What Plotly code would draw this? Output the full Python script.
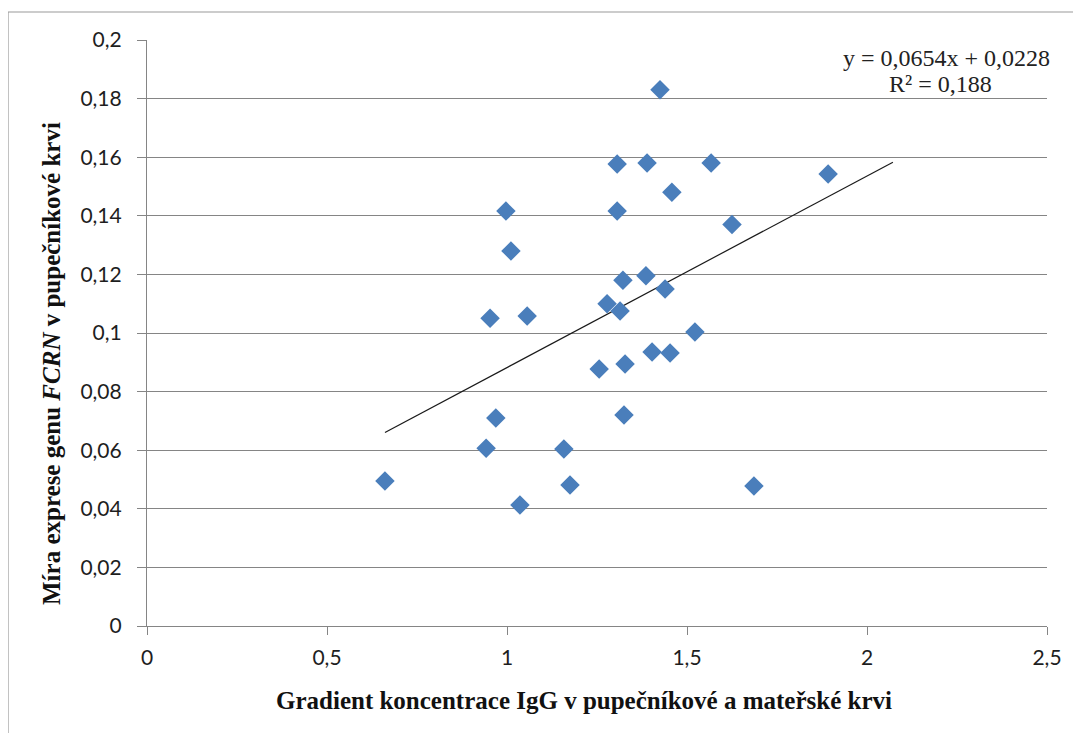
import plotly.graph_objects as go

# ---- data ----
gradient_igg = [0.661, 0.942, 0.969, 0.953, 0.997, 1.011, 1.036, 1.056, 1.158, 1.175,
                1.256, 1.278, 1.306, 1.306, 1.314, 1.322, 1.325, 1.328, 1.389, 1.386,
                1.403, 1.425, 1.439, 1.453, 1.458, 1.522, 1.567, 1.625, 1.686, 1.892]
fcrn_expr = [0.0495, 0.0607, 0.0710, 0.1050, 0.1416, 0.1280, 0.0413, 0.1058, 0.0604, 0.0481,
             0.0877, 0.1100, 0.1577, 0.1416, 0.1075, 0.1180, 0.0720, 0.0894, 0.1580, 0.1195,
             0.0935, 0.1830, 0.1150, 0.0932, 0.1480, 0.1003, 0.1580, 0.1370, 0.0478, 0.1543]

trend_slope = 0.0654
trend_intercept = 0.0228
trend_x = [0.661, 2.072]
trend_y = [trend_slope * v + trend_intercept for v in trend_x]

x_tickvals = [0, 0.5, 1, 1.5, 2, 2.5]
x_ticktext = ["0", "0,5", "1", "1,5", "2", "2,5"]
y_tickvals = [0, 0.02, 0.04, 0.06, 0.08, 0.1, 0.12, 0.14, 0.16, 0.18, 0.2]
y_ticktext = ["0", "0,02", "0,04", "0,06", "0,08", "0,1", "0,12", "0,14", "0,16", "0,18", "0,2"]

eq_line1 = "y = 0,0654x + 0,0228"
eq_line2 = "R² = 0,188"
x_title = "Gradient koncentrace IgG v pupečníkové a mateřské krvi"
y_title = "Míra exprese genu <i>FCRN</i> v pupečníkové krvi"

# page has an 8px body margin; target plot area in screen pixels: (147,40)-(1047,626)
OFF = 8
PX0, PY0, PX1, PY1 = 147, 40, 1047, 626
pw, ph = PX1 - PX0, PY1 - PY0
W, H = 1081 - OFF, 733 - OFF
L, T = PX0 - OFF, PY0 - OFF
R, B = W - L - pw, H - T - ph


def px(x):
    return (x - PX0) / pw


def py(y):
    return 1 - (y - PY0) / ph


grid_col = "#858585"
tick_font = dict(family="Lato, Open Sans, sans-serif", size=21, color="#1e1e1e")
title_font = dict(family="Liberation Serif, DejaVu Serif, serif", size=25, color="#111111")
eq_font = dict(family="Liberation Serif, serif", size=24, color="#222222")

fig = go.Figure()
fig.add_trace(go.Scatter(
    x=trend_x, y=trend_y, mode="lines",
    line=dict(color="#1a1a1a", width=1.2), hoverinfo="skip", showlegend=False))
fig.add_trace(go.Scatter(
    x=gradient_igg, y=fcrn_expr, mode="markers",
    marker=dict(symbol="diamond", size=15, color="#4A7EBB", line=dict(width=0)),
    showlegend=False))

fig.update_layout(
    width=W, height=H,
    margin=dict(l=L, r=R, t=T, b=B),
    paper_bgcolor="white", plot_bgcolor="white",
    showlegend=False,
    xaxis=dict(range=[0, 2.5], tickvals=x_tickvals, ticktext=x_ticktext,
               showgrid=False, zeroline=False,
               showline=True, linecolor=grid_col, linewidth=1.2,
               ticks="outside", ticklen=8, tickcolor=grid_col,
               tickfont=tick_font, ticklabelstandoff=5),
    yaxis=dict(range=[0, 0.2], tickvals=y_tickvals, ticktext=y_ticktext,
               showgrid=True, gridcolor=grid_col, gridwidth=1.2, zeroline=False,
               showline=True, linecolor=grid_col, linewidth=1.2,
               ticks="outside", ticklen=9, tickcolor=grid_col,
               tickfont=tick_font, ticklabelstandoff=11),
)

fig.add_annotation(text="<b>" + x_title + "</b>", xref="paper", yref="paper",
                   x=px(584), y=py(700), showarrow=False,
                   font=title_font, xanchor="center", yanchor="middle")
fig.add_annotation(text="<b>" + y_title + "</b>", xref="paper", yref="paper",
                   x=px(51), y=py(364), showarrow=False, textangle=-90,
                   font=title_font, xanchor="center", yanchor="middle")
fig.add_annotation(text=eq_line1, xref="paper", yref="paper",
                   x=px(946), y=py(58), showarrow=False, font=eq_font,
                   xanchor="center", yanchor="middle")
fig.add_annotation(text=eq_line2, xref="paper", yref="paper",
                   x=px(940), y=py(84), showarrow=False, font=eq_font,
                   xanchor="center", yanchor="middle")

# chart-area border (left and top edges visible in the frame)
fig.add_shape(type="rect", xref="paper", yref="paper",
              x0=px(8), x1=px(1120), y0=py(800), y1=py(12),
              line=dict(color="#9a9a9a", width=1.2), layer="below")

fig.write_html("out.html", config=dict(displayModeBar=False))
